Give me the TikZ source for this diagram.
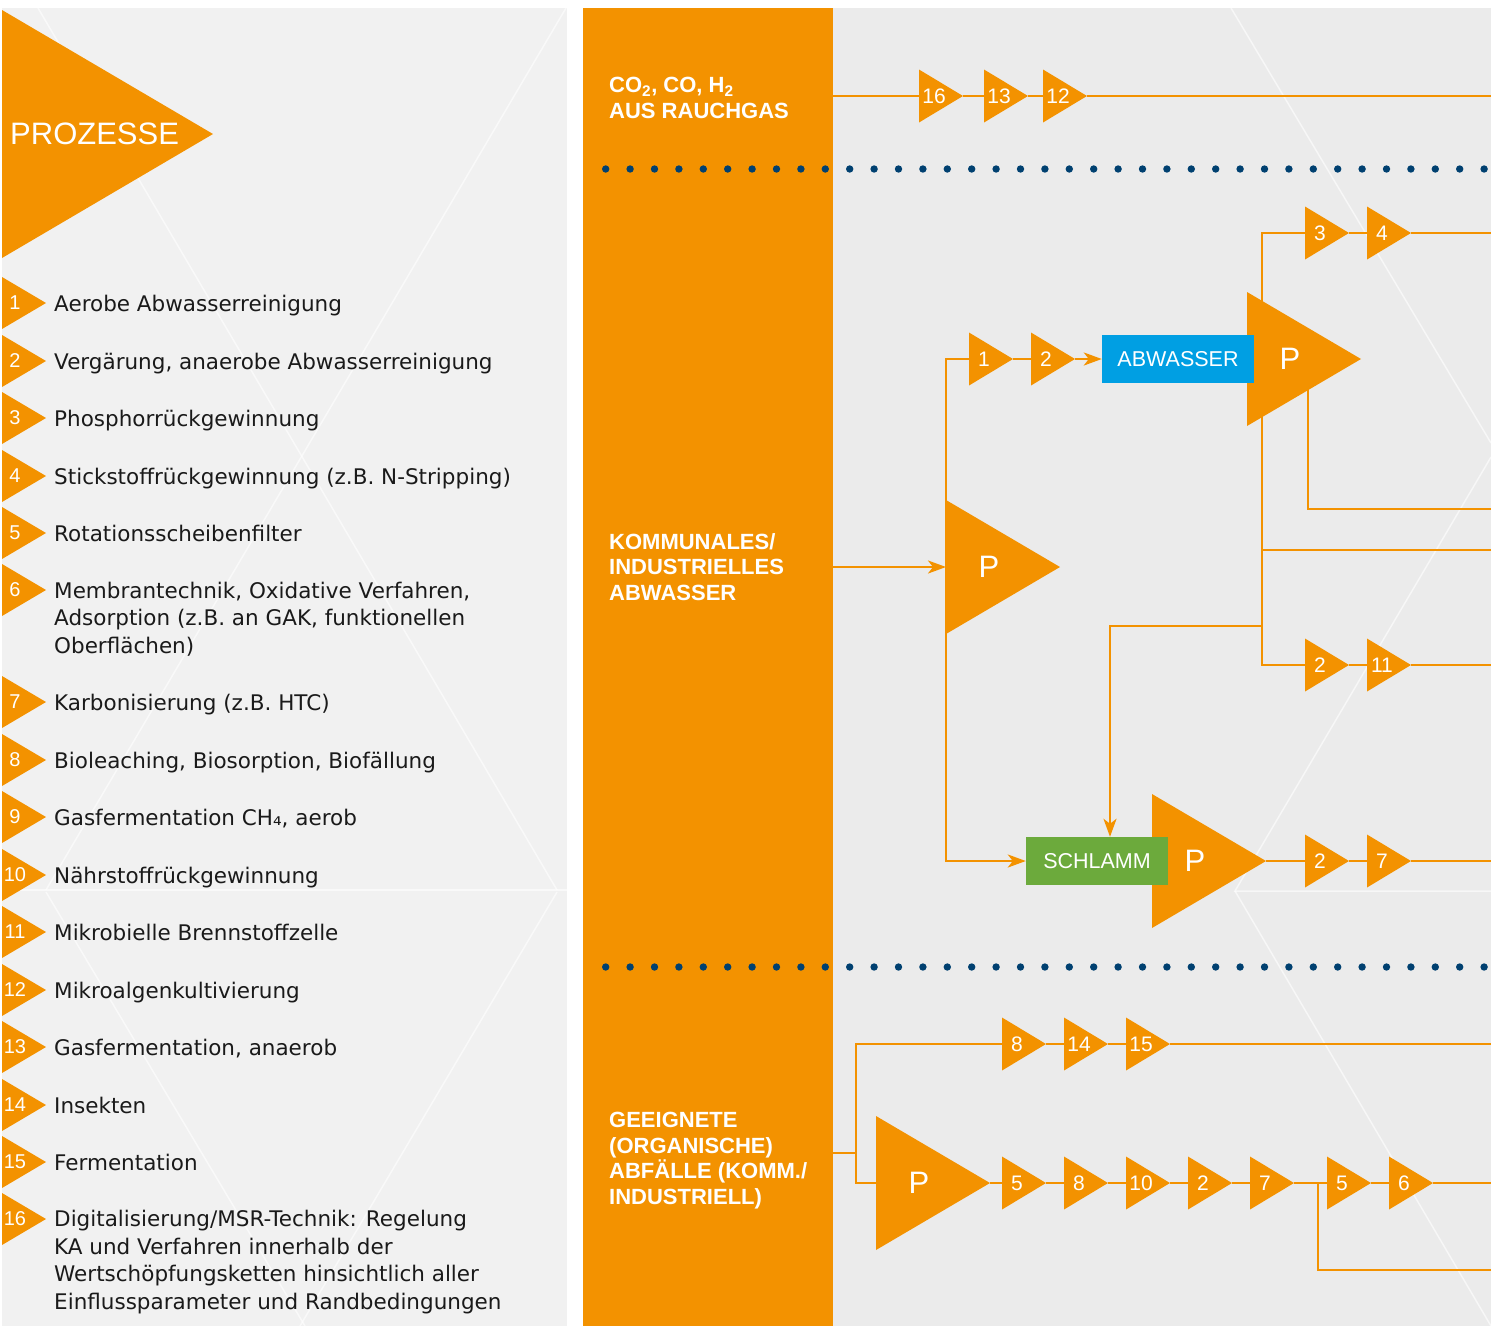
\documentclass[tikz,border=0pt]{standalone}
\usepackage{fontspec}
\setmainfont{Liberation Sans}
\newfontfamily\legendfont{DejaVu Sans}
\usepackage{xcolor}
\usepackage{tikz}
\usetikzlibrary{positioning, arrows.meta}
\definecolor{ProcOrange}{RGB}{243,146,0}
\definecolor{DotBlue}{RGB}{0,64,112}
\definecolor{WaterBlue}{RGB}{0,159,227}
\definecolor{SludgeGreen}{RGB}{108,170,60}
\definecolor{LeftGray}{RGB}{241,241,241}
\definecolor{RightGray}{RGB}{235,235,235}
\definecolor{TextBlack}{RGB}{26,26,26}
\pgfdeclarelayer{bg}
\pgfdeclarelayer{lines}
\pgfsetlayers{bg,lines,main}
\tikzset{
    wedge/.style={
        shape=rectangle, inner sep=0pt, outer sep=0pt,
        append after command={
            \pgfextra{
                \fill[ProcOrange] (\tikzlastnode.north west) -- (\tikzlastnode.east) -- (\tikzlastnode.south west) -- cycle;
            }
        }
    },
    num/.style={text=white, inner sep=0pt, font=\fontsize{21}{21}\selectfont},
    proc/.style={
        wedge, minimum width=44pt, minimum height=53pt,
        append after command={
            \pgfextra{
                \node[num] (\tikzlastnode-n) at ([xshift=-7pt]\tikzlastnode.center) {#1};
            }
        }
    },
    bigp/.style={
        wedge, minimum width=114pt, minimum height=134pt,
        append after command={
            \pgfextra{
                \node[num, font=\fontsize{31}{31}\selectfont] (\tikzlastnode-n) at ([xshift=-14pt]\tikzlastnode.center) {P};
            }
        }
    },
    legtri/.style={
        wedge, minimum width=44pt, minimum height=52pt,
        append after command={
            \pgfextra{
                \node[num, font=\fontsize{20}{20}\selectfont] (\tikzlastnode-n) at ([xshift=-9pt]\tikzlastnode.center) {#1};
            }
        }
    },
    legtxt/.style={text=TextBlack, inner sep=0pt, anchor=base west, align=left,
        font=\legendfont\fontsize{21.5}{27.5}\selectfont},
    coltxt/.style={text=white, inner sep=0pt, anchor=base west, align=left,
        font=\bfseries\fontsize{22}{25.5}\selectfont},
    box/.style={text=white, inner sep=0pt, minimum width=152pt, minimum height=48pt,
        font=\fontsize{21.5}{21.5}\selectfont},
    flow/.style={draw=ProcOrange, line width=2.5pt},
    arr/.style={-{Stealth[length=18pt, width=13pt, inset=5pt]}},
    deco/.style={draw=white, line width=1.5pt, opacity=0.6}
}

\begin{document}
\begin{tikzpicture}[x=1pt, y=-1pt]
\useasboundingbox (0,0) rectangle (1491,1326);

% Panels
\begin{pgfonlayer}{bg}
\fill[LeftGray] (2,8) rectangle (567,1326);
\fill[RightGray] (833,8) rectangle (1491,1326);
\draw[deco] (38,8) -- (557,890);
\draw[deco] (566,8) -- (46,890);
\draw[deco] (2,890) -- (567,890);
\draw[deco] (46,892) -- (305,1326);
\draw[deco] (557,892) -- (300,1326);
\draw[deco] (1231,8) -- (1491,443);
\draw[deco] (1491,457) -- (1235,891) -- (1491,891);
\draw[deco] (1235,891) -- (1491,1326);
\node[fill=ProcOrange, inner sep=0pt, minimum width=250pt, minimum height=1318pt, anchor=north west] (col) at (583,8) {};
\end{pgfonlayer}
\coordinate (rim) at (1491,0);

% Title
\node[wedge, minimum width=211pt, minimum height=248pt, anchor=west] (head) at (2,134) {};
\node[text=white, inner sep=0pt, anchor=west, font=\fontsize{31}{31}\selectfont] (headTxt) at (10,134) {PROZESSE};

% Legend
\node[legtri=1] (l1) at (24,303) {};
\node[legtxt] (t1) at ([xshift=8pt, yshift=-8pt]l1.east) {Aerobe Abwasserreinigung};
\node[legtri=2] (l2) at (24,361) {};
\node[legtxt] (t2) at ([xshift=8pt, yshift=-8pt]l2.east) {Vergärung, anaerobe Abwasserreinigung};
\node[legtri=3] (l3) at (24,418) {};
\node[legtxt] (t3) at ([xshift=8pt, yshift=-8pt]l3.east) {Phosphorrückgewinnung};
\node[legtri=4] (l4) at (24,476) {};
\node[legtxt] (t4) at ([xshift=8pt, yshift=-8pt]l4.east) {Stickstoffrückgewinnung (z.B. N-Stripping)};
\node[legtri=5] (l5) at (24,533) {};
\node[legtxt] (t5) at ([xshift=8pt, yshift=-8pt]l5.east) {Rotationsscheibenfilter};
\node[legtri=6] (l6) at (24,590) {};
\node[legtxt] (t6) at ([xshift=8pt, yshift=-63pt]l6.east) {Membrantechnik, Oxidative Verfahren,\\Adsorption (z.B. an GAK, funktionellen\\Oberflächen)};
\node[legtri=7] (l7) at (24,702) {};
\node[legtxt] (t7) at ([xshift=8pt, yshift=-8pt]l7.east) {Karbonisierung (z.B. HTC)};
\node[legtri=8] (l8) at (24,760) {};
\node[legtxt] (t8) at ([xshift=8pt, yshift=-8pt]l8.east) {Bioleaching, Biosorption, Biofällung};
\node[legtri=9] (l9) at (24,817) {};
\node[legtxt] (t9) at ([xshift=8pt, yshift=-8pt]l9.east) {Gasfermentation CH₄, aerob};
\node[legtri=10] (l10) at (24,875) {};
\node[legtxt] (t10) at ([xshift=8pt, yshift=-8pt]l10.east) {Nährstoffrückgewinnung};
\node[legtri=11] (l11) at (24,932) {};
\node[legtxt] (t11) at ([xshift=8pt, yshift=-8pt]l11.east) {Mikrobielle Brennstoffzelle};
\node[legtri=12] (l12) at (24,990) {};
\node[legtxt] (t12) at ([xshift=8pt, yshift=-8pt]l12.east) {Mikroalgenkultivierung};
\node[legtri=13] (l13) at (24,1047) {};
\node[legtxt] (t13) at ([xshift=8pt, yshift=-8pt]l13.east) {Gasfermentation, anaerob};
\node[legtri=14] (l14) at (24,1105) {};
\node[legtxt] (t14) at ([xshift=8pt, yshift=-8pt]l14.east) {Insekten};
\node[legtri=15] (l15) at (24,1162) {};
\node[legtxt] (t15) at ([xshift=8pt, yshift=-8pt]l15.east) {Fermentation};
\node[legtri=16] (l16) at (24,1219) {};
\node[legtxt] (t16) at ([xshift=8pt, yshift=-90pt]l16.east) {Digitalisierung/MSR-Technik: Regelung\\KA und Verfahren innerhalb der\\Wertschöpfungsketten hinsichtlich aller\\Einflussparameter und Randbedingungen};

% Sources
\node[coltxt] (gasTxt) at (609,118) {CO\textsubscript{2}, CO, H\textsubscript{2}\\AUS RAUCHGAS};
\node[coltxt] (waterTxt) at (609,600) {KOMMUNALES/\\INDUSTRIELLES\\ABWASSER};
\node[coltxt] (wasteTxt) at (609,1204) {GEEIGNETE\\(ORGANISCHE)\\ABFÄLLE (KOMM./\\INDUSTRIELL)};

% Separators
\foreach \i in {0,...,36} {
    \fill[DotBlue] ({605.7+24.4*\i},169) circle (3.7pt);
    \fill[DotBlue] ({605.7+24.4*\i},967) circle (3.7pt);
}

% Flue gas
\node[proc=16] (g16) at (941,96) {};
\node[proc=13, right=21pt of g16] (g13) {};
\node[proc=12, right=15pt of g13] (g12) {};

% Waste water
\node[bigp] (pmain) at (1003,567) {};
\node[proc=1] (a1) at (991,359) {};
\node[proc=2, right=18pt of a1] (a2) {};
\node[bigp] (pabw) at (1304,359) {};
\node[box, fill=WaterBlue] (abw) at (1178,359) {ABWASSER};
\node[proc=3] (a3) at (1327,233) {};
\node[proc=4, right=18pt of a3] (a4) {};
\node[proc=2] (b2) at (1327,665) {};
\node[proc=11, right=18pt of b2] (b11) {};
\node[bigp] (psch) at (1209,861) {};
\node[box, fill=SludgeGreen, minimum width=142pt] (sch) at (1097,861) {SCHLAMM};
\node[proc=2] (c2) at (1327,861) {};
\node[proc=7, right=18pt of c2] (c7) {};

% Waste
\node[proc=8] (d8) at (1024,1044) {};
\node[proc=14, right=18pt of d8] (d14) {};
\node[proc=15, right=18pt of d14] (d15) {};
\node[bigp] (pbot) at (933,1183) {};
\node[proc=5] (e5) at (1024,1183) {};
\node[proc=8, right=18pt of e5] (e8) {};
\node[proc=10, right=18pt of e8] (e10) {};
\node[proc=2, right=18pt of e10] (e2) {};
\node[proc=7, right=18pt of e2] (e7) {};
\node[proc=5, right=33pt of e7] (e5b) {};
\node[proc=6, right=18pt of e5b] (e6) {};

\coordinate (trunk) at ([xshift=15pt]pabw.west);
\coordinate (outA) at (1308,509);
\coordinate (outB) at (1262,550);
\coordinate (outC) at (1262,626);
\coordinate (split) at (856,1153);
\coordinate (loop) at (1318,1270);

% Connectors
\begin{pgfonlayer}{lines}
\draw[flow] (col.east |- g16) -- (g16.west);
\draw[flow] (g16.east) -- (g13.west);
\draw[flow] (g13.east) -- (g12.west);
\draw[flow] (g12.east) -- (g12.east -| rim);

\draw[flow, arr] (col.east |- pmain) -- (pmain.west);
\draw[flow, arr] (a1.west) -| (pmain.west) |- (sch.west);
\draw[flow] (a1.east) -- (a2.west);
\draw[flow, arr] (a2.east) -- (abw.west);
\draw[flow] (a3.west) -| (trunk) |- (b2.west);
\draw[flow] (a3.east) -- (a4.west);
\draw[flow] (a4.east) -- (a4.east -| rim);
\draw[flow] (outA |- pabw) -- (outA) -- (outA -| rim);
\draw[flow] (outB) -- (outB -| rim);
\draw[flow, arr] (outC) -| ([xshift=13pt]sch.north);
\draw[flow] (b2.east) -- (b11.west);
\draw[flow] (b11.east) -- (b11.east -| rim);
\draw[flow] (psch.east) -- (c2.west);
\draw[flow] (c2.east) -- (c7.west);
\draw[flow] (c7.east) -- (c7.east -| rim);

\draw[flow] (col.east |- split) -- (split);
\draw[flow] (d8.west) -| (split) |- (pbot.west);
\draw[flow] (d8.east) -- (d14.west);
\draw[flow] (d14.east) -- (d15.west);
\draw[flow] (d15.east) -- (d15.east -| rim);
\draw[flow] (pbot.east) -- (e5.west);
\draw[flow] (e5.east) -- (e8.west);
\draw[flow] (e8.east) -- (e10.west);
\draw[flow] (e10.east) -- (e2.west);
\draw[flow] (e2.east) -- (e7.west);
\draw[flow] (e7.east) -- (e5b.west);
\draw[flow] (loop |- e7) -- (loop) -- (loop -| rim);
\draw[flow] (e5b.east) -- (e6.west);
\draw[flow] (e6.east) -- (e6.east -| rim);
\end{pgfonlayer}

\end{tikzpicture}
\end{document}
